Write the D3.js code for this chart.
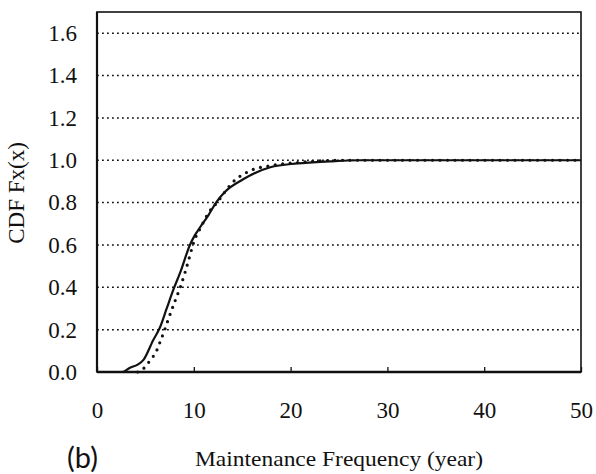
<!DOCTYPE html>
<html>
<head>
<meta charset="utf-8">
<script src="https://cdn.jsdelivr.net/npm/d3@7"></script>
<style>
  body { margin: 0; background: #fff; }
  svg { display: block; }
  text { font-family: "Liberation Serif", "Times New Roman", serif; fill: #111; }
</style>
</head>
<body>
<script>
// maintenance frequency CDF (b)

var solidX = [0, 2.6, 3.4, 4.2, 4.8, 5.8, 6.5, 7.2, 7.9, 8.6, 9.6, 10.1, 10.6, 11.5, 12.3, 13.2, 15.1, 17.9, 20.7, 24.1, 27, 50];
var solidY = [0, 0, 0.02, 0.035, 0.057, 0.15, 0.21, 0.30, 0.39, 0.47, 0.6, 0.645, 0.68, 0.74, 0.80, 0.85, 0.91, 0.967, 0.985, 0.995, 1.0, 1.0];

var dotX = [4.2, 5.0, 5.5, 6.1, 6.5, 7.0, 7.3, 8.1, 8.6, 9.6, 9.9, 10.8, 11.5, 12.4, 14.0, 15.8, 18, 21, 25, 50];
var dotY = [0, 0.025, 0.056, 0.095, 0.14, 0.2, 0.24, 0.34, 0.4, 0.55, 0.6, 0.69, 0.75, 0.8, 0.895, 0.95, 0.975, 0.99, 1.0, 1.0];

var xTicks = [0, 10, 20, 30, 40, 50];
var yTicks = [0, 0.2, 0.4, 0.6, 0.8, 1.0, 1.2, 1.4, 1.6];

(function(){

	var w = 596;
	var h = 474;
	var margin = {top: 12, right: 15, bottom: 102, left: 97};
	var iw = w - margin.left - margin.right;
	var ih = h - margin.top - margin.bottom;

	var svg = d3.select('body')
							.append('svg')
							.attr('width', w)
							.attr('height', h);

	var g = svg.append('g')
		.attr('transform', 'translate(' + margin.left + ',' + margin.top + ')');

	var x = d3.scaleLinear().domain([0, 50]).range([0, iw]);
	var y = d3.scaleLinear().domain([0, 1.7]).range([ih, 0]);

	// dotted gridlines
	g.selectAll('line.grid')
		.data(yTicks.slice(1))
		.enter()
		.append('line')
		.attr('class', 'grid')
		.attr('x1', 0)
		.attr('x2', iw)
		.attr('y1', function(d){ return y(d); })
		.attr('y2', function(d){ return y(d); })
		.attr('stroke', '#111')
		.attr('stroke-width', 1.5)
		.attr('stroke-dasharray', '1.8,3.2');

	// y axis labels
	var yAxis = d3.axisLeft(y)
		.tickValues(yTicks)
		.tickFormat(d3.format('.1f'))
		.tickSize(0)
		.tickPadding(20);

	g.append('g')
		.call(yAxis)
		.call(function(s){
			s.select('.domain').remove();
			s.selectAll('text')
				.style('font-size', '23px')
				.style('font-family', '"Liberation Serif", serif')
				.attr('fill', '#111');
		});

	// x axis labels, inward ticks
	var xAxis = d3.axisBottom(x)
		.tickValues(xTicks)
		.tickFormat(d3.format('d'))
		.tickSize(-5)
		.tickPadding(30);

	g.append('g')
		.attr('transform', 'translate(0,' + ih + ')')
		.call(xAxis)
		.call(function(s){
			s.select('.domain').remove();
			s.selectAll('line').attr('stroke', '#111').attr('stroke-width', 1.3);
			s.selectAll('text')
				.style('font-size', '23px')
				.style('font-family', '"Liberation Serif", serif')
				.attr('fill', '#111');
		});

	// frame
	g.append('rect')
		.attr('x', 0)
		.attr('y', 0)
		.attr('width', iw)
		.attr('height', ih)
		.attr('fill', 'none')
		.attr('stroke', '#111')
		.attr('stroke-width', 1.6);

	g.append('line')
		.attr('x1', 0).attr('x2', 0)
		.attr('y1', 0).attr('y2', ih)
		.attr('stroke', '#111')
		.attr('stroke-width', 2.2);

	g.append('line')
		.attr('x1', 0).attr('x2', iw)
		.attr('y1', ih).attr('y2', ih)
		.attr('stroke', '#111')
		.attr('stroke-width', 2.4);

	var line = d3.line()
		.x(function(d){ return x(d[0]); })
		.y(function(d){ return y(d[1]); })
		.curve(d3.curveMonotoneX);

	// dotted series
	g.append('path')
		.datum(d3.zip(dotX, dotY))
		.attr('d', line)
		.attr('fill', 'none')
		.attr('stroke', '#111')
		.attr('stroke-width', 3.2)
		.attr('stroke-linecap', 'round')
		.attr('stroke-dasharray', '0,7.5');

	// solid series
	g.append('path')
		.datum(d3.zip(solidX, solidY))
		.attr('d', line)
		.attr('fill', 'none')
		.attr('stroke', '#111')
		.attr('stroke-width', 2.2);

	// axis titles
	svg.append('text')
		.attr('x', 195)
		.attr('y', 466)
		.attr('textLength', 288)
		.attr('lengthAdjust', 'spacingAndGlyphs')
		.style('font-size', '21px')
		.text('Maintenance Frequency (year)');

	svg.append('text')
		.attr('transform', 'translate(24,' + 193 + ') rotate(-90)')
		.attr('text-anchor', 'middle')
		.style('font-size', '23px')
		.text('CDF Fx(x)');

	svg.append('text')
		.attr('x', 67)
		.attr('y', 468)
		.style('font-family', 'Lato, "Open Sans", sans-serif')
		.style('font-size', '29px')
		.text('(b)');

})();
</script>
</body>
</html>
